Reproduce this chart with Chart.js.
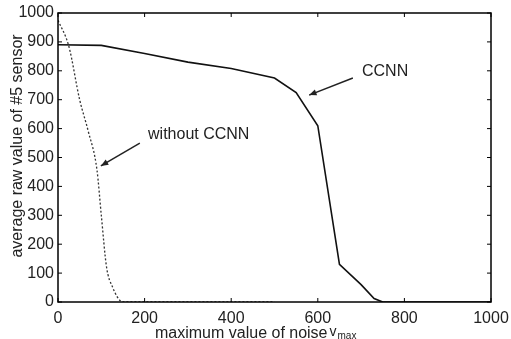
<!DOCTYPE html>
<html>
<head>
<meta charset="utf-8">
<script src="https://cdn.jsdelivr.net/npm/chart.js@4/dist/chart.umd.min.js"></script>
<style>
  html, body { margin: 0; padding: 0; background: #fff; }
  #wrap { width: 511px; height: 339px; }
</style>
</head>
<body>
<div id="wrap"><canvas id="chart" width="511" height="339"></canvas></div>
<script>
// data
const noiseCCNN = [0, 100, 200, 300, 400, 500, 550, 600, 650, 700, 730, 750, 1000];
const rawCCNN = [890, 888, 860, 830, 808, 775, 725, 610, 130, 60, 12, 0, 0];

const noiseWithout = [0, 25, 50, 70, 90, 100, 112, 125, 150, 500];
const rawWithout = [975, 885, 700, 590, 457, 300, 122, 55, 0, 0];

const xTicks = [0, 200, 400, 600, 800, 1000];
const yTicks = [0, 100, 200, 300, 400, 500, 600, 700, 800, 900, 1000];

// annotation text + arrow (data units)
const notes = [
    { text: 'CCNN', at: [702, 796], from: [681, 775], to: [580, 716] },
    { text: 'without CCNN', at: [208, 578], from: [189, 550], to: [99, 471] }
];

const FAMILY = '"Liberation Sans", Arial, sans-serif';
const FONT = '16px ' + FAMILY;

function toPoints(xs, ys) {
    return xs.map((x, i) => ({ x: x, y: ys[i] }));
}

// frame, inward ticks, titles and arrows
const decorations = {
    id: 'decorations',
    afterDraw(chart) {
        const ctx = chart.ctx;
        const area = chart.chartArea;
        const xs = chart.scales.x;
        const ys = chart.scales.y;
        ctx.save();
        ctx.strokeStyle = '#000';
        ctx.lineWidth = 1.5;
        ctx.strokeRect(area.left, area.top, area.right - area.left, area.bottom - area.top);

        ctx.lineWidth = 1;
        xTicks.forEach(v => {
            const px = xs.getPixelForValue(v);
            ctx.beginPath();
            ctx.moveTo(px, area.bottom); ctx.lineTo(px, area.bottom - 4);
            ctx.moveTo(px, area.top); ctx.lineTo(px, area.top + 4);
            ctx.stroke();
        });
        yTicks.forEach(v => {
            const py = ys.getPixelForValue(v);
            ctx.beginPath();
            ctx.moveTo(area.left, py); ctx.lineTo(area.left + 4, py);
            ctx.moveTo(area.right, py); ctx.lineTo(area.right - 4, py);
            ctx.stroke();
        });

        ctx.fillStyle = '#222';
        ctx.font = FONT;
        ctx.textBaseline = 'middle';

        // annotations
        notes.forEach(n => {
            ctx.textAlign = 'left';
            ctx.fillStyle = '#222';
            ctx.fillText(n.text, xs.getPixelForValue(n.at[0]), ys.getPixelForValue(n.at[1]));
            const x1 = xs.getPixelForValue(n.from[0]), y1 = ys.getPixelForValue(n.from[1]);
            const x2 = xs.getPixelForValue(n.to[0]), y2 = ys.getPixelForValue(n.to[1]);
            ctx.strokeStyle = '#222';
            ctx.lineWidth = 1.5;
            ctx.beginPath();
            ctx.moveTo(x1, y1); ctx.lineTo(x2, y2);
            ctx.stroke();
            const ang = Math.atan2(y2 - y1, x2 - x1);
            const len = 8, spread = 0.4;
            ctx.beginPath();
            ctx.moveTo(x2, y2);
            ctx.lineTo(x2 - len * Math.cos(ang - spread), y2 - len * Math.sin(ang - spread));
            ctx.lineTo(x2 - len * Math.cos(ang + spread), y2 - len * Math.sin(ang + spread));
            ctx.closePath();
            ctx.fill();
        });

        // x axis title with v_max
        ctx.fillStyle = '#222';
        ctx.textAlign = 'left';
        ctx.textBaseline = 'alphabetic';
        const main = 'maximum value of noise';
        const tx = 155, ty = 338;
        ctx.fillText(main, tx, ty);
        const w = ctx.measureText(main).width;
        ctx.font = '14px ' + FAMILY;
        ctx.fillText('v', tx + w + 2, ty - 2);
        const vw = ctx.measureText('v').width;
        ctx.font = '10px ' + FAMILY;
        ctx.fillText('max', tx + w + 2 + vw + 1, ty + 1);

        // y axis title
        ctx.font = FONT;
        ctx.translate(22, 146);
        ctx.rotate(-Math.PI / 2);
        ctx.textAlign = 'center';
        ctx.fillText('average raw value of #5 sensor', 0, 0);
        ctx.restore();
    }
};

new Chart(document.getElementById('chart'), {
    type: 'scatter',
    data: {
        datasets: [
            {
                label: 'CCNN',
                data: toPoints(noiseCCNN, rawCCNN),
                showLine: true,
                borderColor: '#111',
                borderWidth: 1.6,
                pointRadius: 0,
                tension: 0
            },
            {
                label: 'without CCNN',
                data: toPoints(noiseWithout, rawWithout),
                showLine: true,
                borderColor: '#333',
                borderWidth: 1.3,
                borderDash: [2, 2],
                pointRadius: 0,
                cubicInterpolationMode: 'monotone'
            }
        ]
    },
    options: {
        responsive: false,
        animation: false,
        layout: { padding: { left: 0, top: 13, right: 20, bottom: 0 } },
        plugins: { legend: { display: false }, tooltip: { enabled: false } },
        scales: {
            x: {
                type: 'linear',
                min: 0, max: 1000,
                afterBuildTicks: axis => { axis.ticks = xTicks.map(v => ({ value: v })); },
                afterFit: axis => { axis.height = 37; axis.paddingRight = 0; axis.paddingLeft = 0; },
                grid: { display: false, drawTicks: false },
                border: { display: false },
                ticks: {
                    color: '#222', font: { family: FAMILY, size: 16 }, padding: 7, maxRotation: 0,
                    callback: v => String(v)
                }
            },
            y: {
                min: 0, max: 1000,
                afterBuildTicks: axis => { axis.ticks = yTicks.map(v => ({ value: v })); },
                afterFit: axis => { axis.width = 58; axis.paddingTop = 0; axis.paddingBottom = 0; },
                grid: { display: false, drawTicks: false },
                border: { display: false },
                ticks: {
                    color: '#222', font: { family: FAMILY, size: 16 }, padding: 4,
                    callback: v => String(v)
                }
            }
        }
    },
    plugins: [decorations]
});
</script>
</body>
</html>
